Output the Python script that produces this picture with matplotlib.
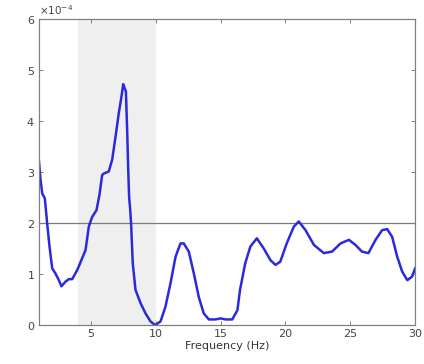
import numpy as np
import matplotlib
matplotlib.use("Agg")
import matplotlib.pyplot as plt
from matplotlib.ticker import ScalarFormatter

# Spectrum samples (frequency in Hz, power in units of 1e-4)
freq = [1.0, 1.12, 1.25, 1.45, 1.63, 1.81, 2.02, 2.27, 2.53, 2.73, 3.04, 3.3,
        3.56, 3.95, 4.33, 4.59, 4.84, 5.1, 5.43, 5.66, 5.87, 6.0, 6.38, 6.64,
        6.9, 7.15, 7.36, 7.49, 7.58, 7.7, 7.8, 7.88, 7.95, 8.02, 8.1, 8.23,
        8.44, 8.83, 9.21, 9.6, 9.95, 10.37, 10.75, 11.14, 11.53, 11.91, 12.16,
        12.55, 12.94, 13.32, 13.7, 14.1, 14.6, 15.0, 15.4, 15.9, 16.3, 16.5,
        16.9, 17.3, 17.8, 18.33, 18.85, 19.23, 19.6, 20.1, 20.65, 21.03, 21.55,
        22.2, 22.96, 23.6, 24.25, 24.9, 25.4, 25.9, 26.4, 26.95, 27.46, 27.85,
        28.23, 28.62, 29.0, 29.4, 29.77, 30.0]
power_e4 = [3.2, 2.84, 2.58, 2.48, 1.99, 1.54, 1.11, 1.01, 0.88, 0.76, 0.85, 0.9,
            0.9, 1.08, 1.31, 1.47, 1.93, 2.12, 2.25, 2.55, 2.94, 2.97, 3.01, 3.24,
            3.69, 4.15, 4.48, 4.72, 4.66, 4.58, 3.8, 3.04, 2.5, 2.3, 1.99, 1.21,
            0.69, 0.43, 0.23, 0.07, 0.0, 0.07, 0.36, 0.82, 1.34, 1.6, 1.6,
            1.44, 1.01, 0.55, 0.23, 0.11, 0.11, 0.13, 0.11, 0.11, 0.29, 0.69,
            1.21, 1.54, 1.7, 1.5, 1.27, 1.18, 1.24, 1.6, 1.93, 2.03, 1.86,
            1.57, 1.41, 1.44, 1.6, 1.67, 1.57, 1.44, 1.41, 1.67, 1.86, 1.88,
            1.73, 1.34, 1.05, 0.88, 0.95, 1.11]
power = np.array(power_e4) * 1e-4

band = (4, 10)          # shaded frequency band
threshold = 2e-4        # reference level
xticks = [5, 10, 15, 20, 25, 30]
yticks = np.arange(0, 7) * 1e-4

fig = plt.figure(figsize=(4.24, 3.64), dpi=100)
ax = fig.add_axes([0.092, 0.107, 0.887, 0.841])

gray = "#808080"
ax.axvspan(*band, color="#efefef", lw=0, zorder=0)
ax.axhline(threshold, color="#7a7a7a", lw=0.9, zorder=1)
ax.plot(freq, power, color="#2a2adc", lw=1.8, zorder=2,
        solid_joinstyle="round")

ax.set_xlim(1, 30)
ax.set_ylim(0, 6e-4)
ax.set_xticks(xticks)
ax.set_yticks(yticks)

fmt = ScalarFormatter(useMathText=True)
fmt.set_powerlimits((-3, 3))
ax.yaxis.set_major_formatter(fmt)
ax.yaxis.get_offset_text().set_fontsize(7.5)
ax.yaxis.get_offset_text().set_color("#444444")

for s in ax.spines.values():
    s.set_color(gray)
    s.set_linewidth(0.9)
ax.tick_params(direction="in", top=True, right=True, length=3, width=0.7,
               color=gray, labelsize=8, labelcolor="#444444", pad=3)

ax.set_xlabel("Frequency (Hz)", fontsize=8, color="#333333", labelpad=1)

fig.canvas.draw()
ot = ax.yaxis.get_offset_text()
ot.set_x(0.0)
ot.set_horizontalalignment("left")

fig.savefig("out.png", dpi=100)
